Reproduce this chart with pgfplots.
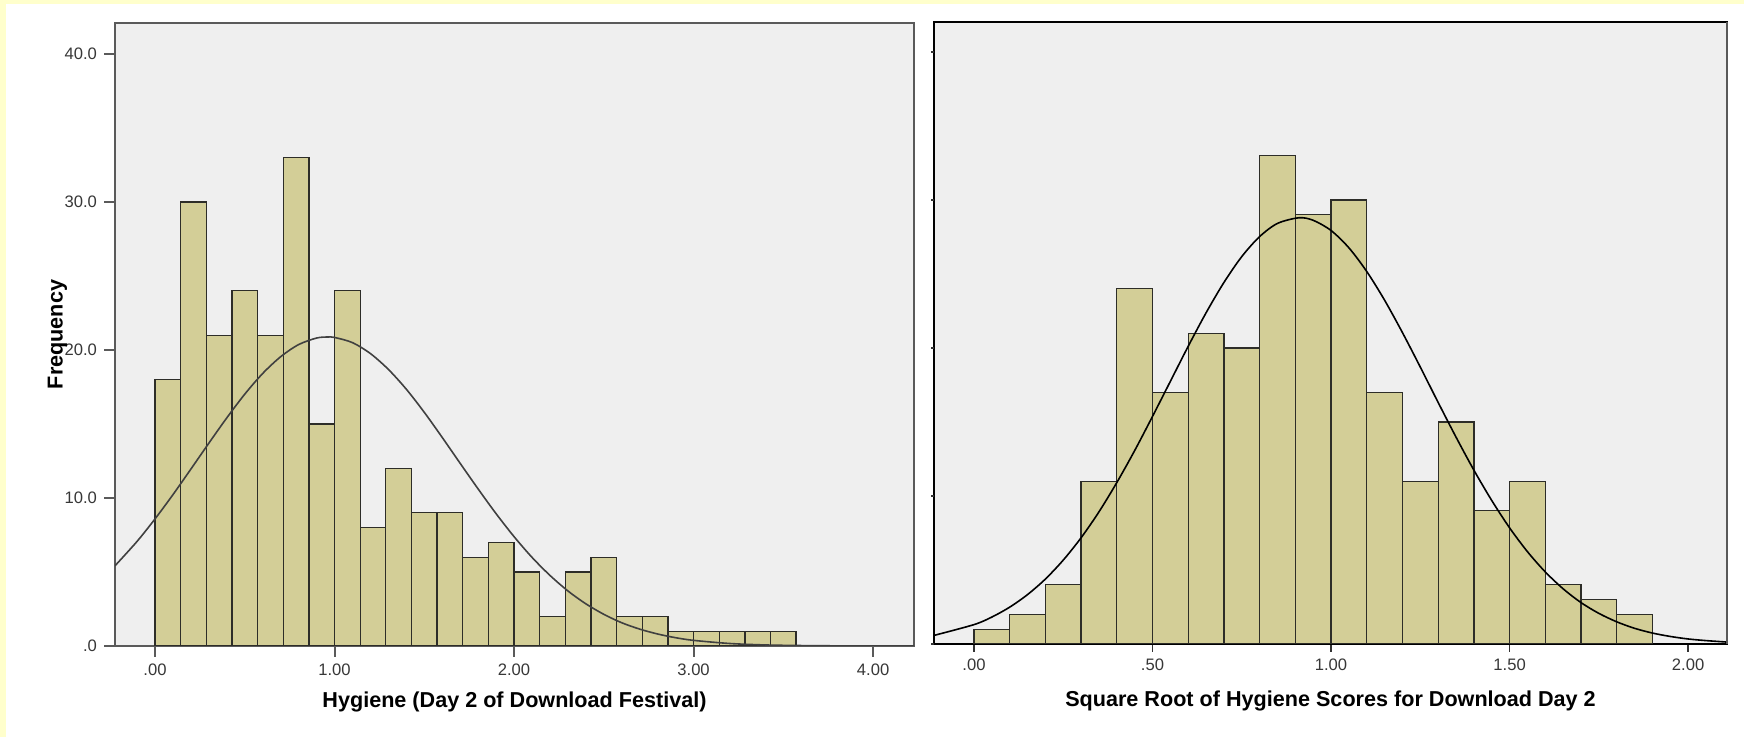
\documentclass[border=0pt]{standalone}
\usepackage{pgfplots}
\pgfplotsset{compat=1.18}
\usepackage{fontspec}
\setmainfont{Liberation Sans}

\definecolor{pagebg}{RGB}{255,255,204}
\definecolor{panelbg}{RGB}{239,239,239}
\definecolor{barfill}{RGB}{211,206,151}
\definecolor{baredge}{RGB}{45,45,40}
\definecolor{frameL}{RGB}{90,90,90}
\definecolor{ticktext}{RGB}{55,55,55}

\pgfplotsset{
  spsshist/.style={
    scale only axis,
    anchor=south west,
    axis background/.style={fill=panelbg},
    ymin=0, ymax=42.1,
    tick align=outside,
    xtick pos=bottom, ytick pos=left,
    tick label style={font=\fontsize{8.3}{10}\selectfont, text=ticktext},
    /pgf/number format/assume math mode=true,
    label style={font=\fontsize{10.8}{13}\selectfont\bfseries, text=black},
  },
  histbar/.style={ybar interval, fill=barfill, draw=baredge, line width=0.65pt},
}

\begin{document}
\begin{tikzpicture}
% page background with the tinted margin strips
\fill[white] (0,0) rectangle (872pt,368.5pt);
\fill[pagebg] (0,0) rectangle (3pt,368.5pt);
\fill[pagebg] (0,366.5pt) rectangle (872pt,368.5pt);

% ---- raw hygiene scores, day 2 ----
\begin{axis}[spsshist,
  at={(57.5pt,45.5pt)}, width=399.5pt, height=311.5pt,
  xmin=-0.223, xmax=4.228,
  axis line style={draw=frameL, line width=1.1pt},
  major tick length=5.5pt,
  major tick style={draw=frameL, line width=1pt},
  xtick={0,1,2,3,4}, xticklabels={.00,1.00,2.00,3.00,4.00},
  ytick={0,10,20,30,40}, yticklabels={.0,10.0,20.0,30.0,40.0},
  xlabel={Hygiene (Day 2 of Download Festival)},
  ylabel={Frequency},
  xlabel style={at={(axis description cs:0.5,-0.0995)}, anchor=base},
  ylabel style={at={(axis description cs:-0.0657,0.5)}, anchor=base},
]
\addplot[histbar] coordinates {
  (0.0000,18) (0.1429,30) (0.2857,21) (0.4286,24) (0.5714,21)
  (0.7143,33) (0.8571,15) (1.0000,24) (1.1429,8)  (1.2857,12)
  (1.4286,9)  (1.5714,9)  (1.7143,6)  (1.8571,7)  (2.0000,5)
  (2.1429,2)  (2.2857,5)  (2.4286,6)  (2.5714,2)  (2.7143,2)
  (2.8571,1)  (3.0000,1)  (3.1429,1)  (3.2857,1)  (3.4286,1)
  (3.5714,1)
};
% fitted normal curve (mean 0.96, sd 0.72, N 264)
\addplot[smooth, draw=black!75, line width=0.8pt] coordinates {
  (-0.223,5.42) (-0.1,7.07) (0.0,8.59) (0.1,10.23) (0.2,11.96)
  (0.3,13.71) (0.4,15.42) (0.5,17.02) (0.6,18.42) (0.7,19.55)
  (0.8,20.37) (0.9,20.81) (0.961,20.88) (1.0,20.85) (1.1,20.50)
  (1.2,19.76) (1.3,18.69) (1.4,17.35) (1.5,15.79) (1.6,14.09)
  (1.7,12.34) (1.8,10.61) (1.9,8.94) (2.0,7.39) (2.1,5.99)
  (2.2,4.77) (2.3,3.72) (2.4,2.85) (2.5,2.14) (2.6,1.57)
  (2.7,1.14) (2.8,0.81) (2.9,0.56) (3.0,0.38) (3.2,0.17)
  (3.4,0.07) (3.6,0.03) (3.8,0.01) (4.0,0.0) (4.228,0.0)
};
\end{axis}

% ---- square-root transformed scores ----
\begin{axis}[spsshist, name=sqrtaxis,
  at={(467pt,46.5pt)}, width=396.5pt, height=311pt,
  xmin=-0.112, xmax=2.109, ymax=42.03,
  axis line style={draw=black, line width=0.7pt},
  major tick length=4pt,
  major tick style={draw=black!80, line width=0.9pt},
  xtick={0,0.5,1,1.5,2}, xticklabels={.00,.50,1.00,1.50,2.00},
  ytick=\empty,
  xlabel={Square Root of Hygiene Scores for Download Day 2},
  xlabel style={at={(axis description cs:0.5,-0.0997)}, anchor=base},
  % short unlabelled frequency ticks on the left edge
  after end axis/.code={
    \foreach \f in {0,10,20,30,40}
      \draw[black!80, line width=0.9pt] (axis cs:-0.112,\f) -- ++(-1.3pt,0);
  },
]
\addplot[histbar] coordinates {
  (0.0,1)  (0.1,2)  (0.2,4)  (0.3,11) (0.4,24)
  (0.5,17) (0.6,21) (0.7,20) (0.8,33) (0.9,29)
  (1.0,30) (1.1,17) (1.2,11) (1.3,15) (1.4,9)
  (1.5,11) (1.6,4)  (1.7,3)  (1.8,2)  (1.9,2)
};
% fitted normal curve (mean 0.91, sd 0.366, N 264)
\addplot[smooth, draw=black, line width=0.8pt] coordinates {
  (-0.112,0.58) (0.0,1.31) (0.05,1.82) (0.1,2.49) (0.15,3.34)
  (0.2,4.39) (0.25,5.67) (0.3,7.18) (0.35,8.93) (0.4,10.91)
  (0.45,13.07) (0.5,15.38) (0.55,17.75) (0.6,20.12) (0.65,22.38)
  (0.7,24.43) (0.75,26.18) (0.8,27.53) (0.85,28.42) (0.91,28.80)
  (0.95,28.63) (1.0,27.94) (1.05,26.77) (1.1,25.17) (1.15,23.23)
  (1.2,21.04) (1.25,18.71) (1.3,16.32) (1.35,13.98) (1.4,11.75)
  (1.45,9.70) (1.5,7.85) (1.55,6.24) (1.6,4.87) (1.65,3.73)
  (1.7,2.80) (1.75,2.07) (1.8,1.50) (1.85,1.06) (1.9,0.74)
  (1.95,0.51) (2.0,0.34) (2.05,0.23) (2.109,0.13)
};
\end{axis}
% heavier right-hand edge of the second frame
\draw[black!65, line width=1.2pt] (sqrtaxis.north east) -- (sqrtaxis.south east);

\pgfresetboundingbox
\path[use as bounding box] (0,0) rectangle (872pt,368.5pt);
\end{tikzpicture}
\end{document}
